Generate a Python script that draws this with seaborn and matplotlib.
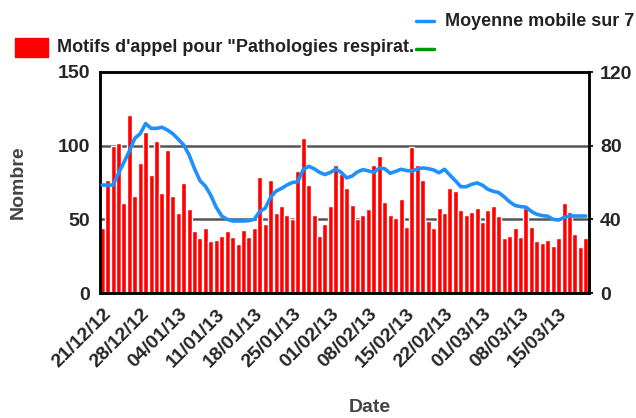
import matplotlib
matplotlib.use("Agg")
import matplotlib.pyplot as plt
from matplotlib.patches import Rectangle
from matplotlib.lines import Line2D
from matplotlib.transforms import ScaledTranslation
import seaborn as sns
import pandas as pd

# daily counts, 21/12/12 -> 20/03/13
counts = [44, 77, 100, 102, 61, 121, 66, 88, 109, 80, 103, 68, 97, 66, 54, 75, 57, 42,
          37, 44, 35, 36, 39, 42, 38, 33, 43, 38, 44, 79, 47, 77, 54, 59, 53, 50,
          83, 105, 73, 53, 39, 47, 59, 87, 81, 71, 60, 50, 53, 57, 87, 93, 62, 53,
          51, 64, 45, 99, 87, 77, 49, 44, 58, 54, 71, 69, 56, 53, 55, 58, 48, 56,
          59, 52, 37, 39, 44, 38, 58, 45, 35, 34, 36, 32, 37, 61, 55, 40, 31, 37]

# moving average
moving_avg = [58.6, 58.6, 58.6, 65, 71, 77, 84, 86.5, 92, 89.4, 89.4, 90, 88.5, 86.5, 83.5,
              80.4, 75, 67.5, 61, 58, 53, 46.5, 41.8, 40, 39.1, 39.1, 39.1, 39.3, 40, 44.3,
              46, 52, 55.3, 56.8, 58.6, 60, 60.4, 67, 68.8, 67.5, 65.5, 64.3, 65.5, 67.2,
              65.5, 62.5, 63.5, 65.8, 67, 66.3, 65.5, 67.8, 67.5, 65, 66, 67.2, 66.5, 66.2,
              67.3, 67.9, 67.5, 66.8, 65.3, 67.2, 64, 61, 57.7, 57.7, 59, 59.8, 58.5, 56.3,
              55.2, 54.5, 52.2, 49.5, 47.5, 46.9, 46.6, 44.3, 42.7, 42, 41.7, 40, 39.6, 41,
              41.8, 41.8, 41.8, 41.8]

tick_days = [0, 7, 14, 21, 28, 35, 42, 49, 56, 63, 70, 77, 84]
tick_labels = ["21/12/12", "28/12/12", "04/01/13", "11/01/13", "18/01/13", "25/01/13",
               "01/02/13", "08/02/13", "15/02/13", "22/02/13", "01/03/13", "08/03/13",
               "15/03/13"]

df = pd.DataFrame({"day": range(len(counts)), "count": counts, "ma": moving_avg})

sns.set_style("white")
plt.rcParams["font.family"] = ["Liberation Sans", "DejaVu Sans"]
plt.rcParams["font.weight"] = "bold"

fig = plt.figure(figsize=(6.36, 4.18), dpi=100)
ax = fig.add_axes([100 / 636, 1 - 293 / 418, 489 / 636, 221 / 418])

sns.barplot(data=df, x="day", y="count", color="#ff0000", saturation=1,
            width=0.92, ax=ax, zorder=2)
ax.set_xlim(-0.4, 89.6)
ax.set_ylim(0, 150)
ax.set_yticks([0, 50, 100, 150])
ax.set_yticklabels(["0", "50", "100", "150"], fontsize=14, fontweight="bold")
for yv in [50, 100]:
    ax.axhline(yv, color="#555555", lw=1.8, zorder=1)
ax.set_xticks(tick_days)
ax.set_xticklabels(tick_labels, rotation=45, ha="right", rotation_mode="anchor",
                   fontsize=14, fontweight="bold")
shift = ScaledTranslation(4 / 72, 0, fig.dpi_scale_trans)
for lbl in ax.get_xticklabels():
    lbl.set_transform(lbl.get_transform() + shift)
ax.tick_params(axis="x", length=4, width=1.5, color="black", pad=5)
ax.tick_params(axis="y", length=0, pad=7)
ax.set_xlabel("Date", fontsize=14, fontweight="bold", color="#444444", va="center")
ax.xaxis.set_label_coords((370 - 100) / 489, (293 - 407) / 221)
ax.set_ylabel("Nombre", fontsize=14, fontweight="bold", color="#444444", va="center")
ax.yaxis.set_label_coords((18 - 100) / 489, 0.5)
for s in ax.spines.values():
    s.set_color("black")
    s.set_linewidth(1.8)

ax2 = ax.twinx()
sns.lineplot(data=df, x="day", y="ma", color="#1e90ff", lw=2.6, ax=ax2, zorder=3)
ax2.set_ylim(0, 120)
ax2.set_yticks([0, 40, 80, 120])
ax2.set_yticklabels(["0", "40", "80", "120"], fontsize=14, fontweight="bold")
ax2.tick_params(axis="y", length=3, width=1.5, pad=5)
ax2.set_ylabel("")
ax2.set_xlabel("")
for s in ax2.spines.values():
    s.set_color("black")
    s.set_linewidth(1.8)

# legend drawn at figure level
fig.patches.append(Rectangle((15 / 636, 1 - 57 / 418), 33 / 636, 19 / 418,
                             transform=fig.transFigure, color="#ff0000"))
fig.text(57 / 636, 1 - 48 / 418, "Motifs d'appel pour \"Pathologies respirat.",
         fontsize=13, fontweight="bold", color="#222222", va="center")
fig.lines.append(Line2D([416 / 636, 434 / 636], [1 - 49 / 418, 1 - 49 / 418],
                        transform=fig.transFigure, color="#009900", lw=2.5))
fig.lines.append(Line2D([416 / 636, 434 / 636], [1 - 21 / 418, 1 - 21 / 418],
                        transform=fig.transFigure, color="#1e90ff", lw=2.5))
fig.text(445 / 636, 1 - 21 / 418, "Moyenne mobile sur 7",
         fontsize=13, fontweight="bold", color="#222222", va="center")

fig.savefig("out.png", dpi=100)
